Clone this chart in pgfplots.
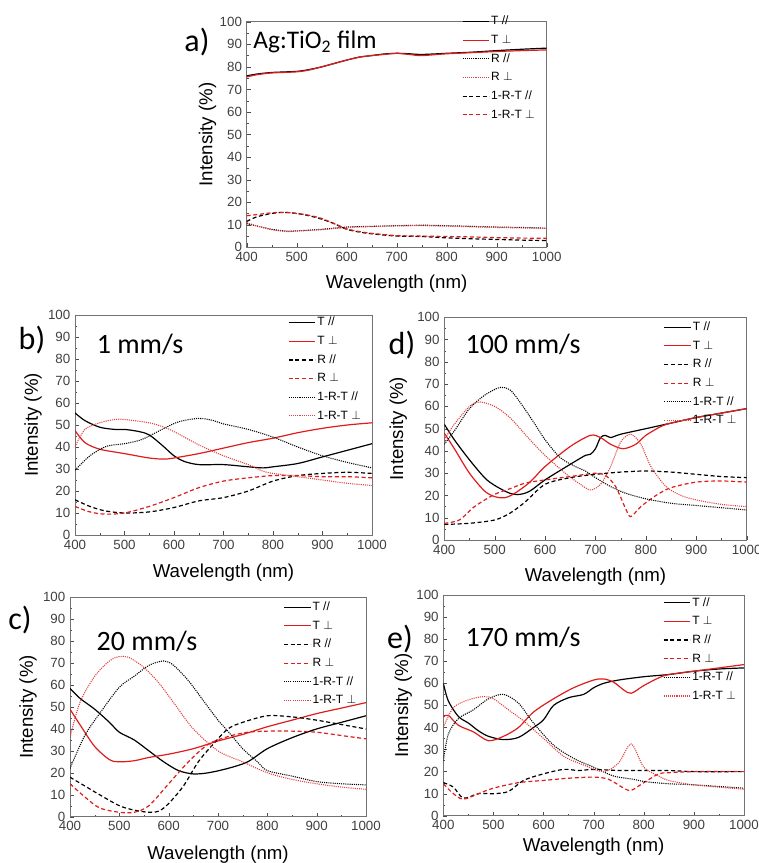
\documentclass[border=0pt]{standalone}
\usepackage{fontspec}
\setmainfont{Liberation Sans}
\newfontfamily\calib{Carlito}
\usepackage{pgfplots}
\pgfplotsset{compat=1.18}
\definecolor{myred}{RGB}{222,28,28}

\pgfplotsset{
  panel/.style={
    scale only axis,
    xmin=400, xmax=1000, ymin=0, ymax=100,
    xtick={400,500,...,1000}, ytick={0,10,...,100},
    minor x tick num=1, minor y tick num=1,
    tick align=inside, xtick pos=bottom, ytick pos=left,
    axis line style={black!55},
    major tick length=3pt, minor tick length=1.5pt,
    tick style={black!70},
    tick label style={font=\fontsize{10}{11}\selectfont, text=black!75},
    /pgf/number format/assume math mode=true,
    /pgf/number format/1000 sep={},
    label style={font=\fontsize{14}{16}\selectfont},
    xlabel={Wavelength (nm)}, ylabel={Intensity (\%)},
    legend cell align=left,
    legend image code/.code={\draw[##1] (0pt,0pt) -- (20pt,0pt);},
    legend style={draw=none, fill=none, anchor=north west, inner sep=0pt,
      font=\fontsize{9}{10}\selectfont, row sep=3pt,
      nodes={inner sep=1pt, text height=7pt, text depth=2pt}},
  },
  Tp/.style={black, solid, line width=0.9pt, smooth},
  Tr/.style={myred, solid, line width=0.9pt, smooth},
  Dp/.style={black, dash pattern=on 3pt off 2pt, line width=0.9pt, smooth},
  Dr/.style={myred, dash pattern=on 3pt off 2pt, line width=0.9pt, smooth},
  Op/.style={black, dash pattern=on 0.8pt off 0.8pt, line width=0.8pt, smooth},
  Or/.style={myred!85, dash pattern=on 0.8pt off 0.8pt, line width=0.8pt, smooth},
}

\begin{document}
\begin{tikzpicture}
\useasboundingbox (0,0) rectangle (569.25pt,-647.25pt);

% ---------- a) Ag:TiO2 film
\begin{axis}[panel, at={(185pt,-185.5pt)}, anchor=south west,
  width=225pt, height=169.2pt,
  xlabel style={at={(axis description cs:0.5,-0.16)}, anchor=center},
  ylabel style={at={(axis description cs:-0.13,0.5)}, anchor=center},
  legend style={at={(0.717,1.035)}}]
\addplot[Tp] coordinates {(400,76)(420,76.8)(450,77.5)(500,78)(525,78.8)(550,80)(575,81.5)(600,83)(625,84.3)(650,85)(675,85.7)(700,86)(725,85.8)(750,85.5)(800,86)(850,86.5)(900,87.2)(950,87.8)(1000,88.3)};
\addplot[Tr] coordinates {(400,75.5)(420,76.5)(450,77.3)(500,77.8)(525,78.6)(550,80)(575,81.5)(600,83)(625,84.3)(650,85)(675,85.5)(700,86)(725,85.5)(750,85)(800,85.8)(850,86.3)(900,86.8)(950,87.2)(1000,87.5)};
\addplot[Op] coordinates {(400,10.5)(420,9.5)(450,8)(480,7.2)(500,7.3)(550,8)(600,9)(650,9.3)(700,9.6)(750,9.8)(800,9.6)(850,9.3)(900,9)(950,8.8)(1000,8.5)};
\addplot[Or] coordinates {(400,11)(420,9.5)(450,7.8)(480,7)(500,7.2)(550,7.8)(600,8.8)(650,9.2)(700,9.5)(750,9.6)(800,9.4)(850,9.1)(900,8.8)(950,8.6)(1000,8.4)};
\addplot[Dp] coordinates {(400,11.5)(420,13.5)(450,15)(475,15.5)(500,15)(525,14)(550,12.5)(575,10.5)(600,8)(625,6.8)(650,6)(700,5)(750,4.8)(800,4.2)(850,3.8)(900,3.5)(950,3.2)(1000,3)};
\addplot[Dr] coordinates {(400,14)(420,14.5)(450,15.3)(475,15.5)(500,15)(525,14.2)(550,12.8)(575,10.5)(600,8.2)(625,7)(650,6.2)(700,5.2)(750,5)(800,4.8)(850,4.6)(900,4.3)(950,4.1)(1000,4)};
\legend{T //, T $\perp$, R //, R $\perp$, 1-R-T //, 1-R-T $\perp$}
\end{axis}

% ---------- b) 1 mm/s
\begin{axis}[panel, at={(56.25pt,-401.25pt)}, anchor=south west,
  width=222.75pt, height=165pt,
  xlabel style={at={(axis description cs:0.5,-0.17)}, anchor=center},
  ylabel style={at={(axis description cs:-0.141,0.5)}, anchor=center},
  legend style={at={(0.717,1.0)}}]
\addplot[Tp] coordinates {(400,55.5)(420,52)(450,49)(480,48)(500,48)(530,47)(550,45.5)(575,41)(600,36)(620,33.5)(650,32)(700,32)(750,31)(780,30.5)(800,31)(850,32.5)(900,35.5)(950,38.5)(1000,41.5)};
\addplot[Tr] coordinates {(400,47.5)(420,42)(450,39)(500,37)(550,35)(580,34.5)(600,35)(650,37)(700,39.5)(750,42)(800,44)(850,46.5)(900,48.5)(950,50)(1000,51)};
\addplot[Dp] coordinates {(400,16)(430,13)(460,11)(500,10)(550,10.5)(600,12.5)(650,15.5)(700,17)(750,20)(800,24.5)(850,27)(900,28)(950,28.5)(1000,28)};
\addplot[Dr] coordinates {(400,13)(430,10.5)(460,9.5)(500,10)(550,13)(600,17)(650,21.5)(700,24.5)(750,26)(800,27)(850,27)(900,26.5)(950,26.5)(1000,26)};
\addplot[Op] coordinates {(400,29.5)(430,36)(460,40)(480,41)(500,41.5)(530,43)(550,45)(580,48.5)(610,51.5)(650,53)(680,52)(700,50.5)(750,48)(800,44.5)(850,40)(900,36)(950,33)(1000,30.5)};
\addplot[Or] coordinates {(400,40)(420,48)(450,51)(480,52.5)(500,52.5)(550,51)(580,49)(600,47)(650,41)(700,36)(750,32)(780,29)(800,28)(850,26.5)(900,25)(950,23.5)(1000,22.5)};
\legend{T //, T $\perp$, R //, R $\perp$, 1-R-T //, 1-R-T $\perp$}
\end{axis}

% ---------- d) 100 mm/s
\begin{axis}[panel, at={(333.2pt,-405pt)}, anchor=south west,
  width=226.8pt, height=167pt,
  xlabel style={at={(axis description cs:0.5,-0.166)}, anchor=center},
  ylabel style={at={(axis description cs:-0.152,0.5)}, anchor=center},
  legend style={at={(0.725,0.99)}}]
\addplot[Tp] coordinates {(400,52)(420,45)(450,36)(480,28)(500,24.5)(530,21)(550,20.5)(570,22)(600,27)(650,34)(680,38)(690,38.5)(700,41)(710,46)(720,47)(730,46)(750,47.5)(800,50)(850,52.5)(900,55)(950,57)(1000,59)};
\addplot[Tr] coordinates {(400,48)(420,41)(450,30)(480,22)(500,19.5)(520,19)(540,21)(570,26)(600,33)(650,42)(690,47)(710,46)(730,43)(755,41)(780,43)(800,47)(830,51)(850,52.5)(900,55)(950,57)(1000,59)};
\addplot[Dp] coordinates {(400,7)(450,7.5)(500,9)(530,12)(560,17)(600,25)(650,28)(700,29.5)(750,30.5)(800,31)(850,30.5)(900,29.5)(950,28.5)(1000,28)};
\addplot[Dr] coordinates {(400,7.5)(430,9)(460,15)(500,20.5)(530,23)(560,25.5)(600,27)(650,28.5)(700,30)(720,29)(740,24)(760,14)(770,10.5)(790,15)(820,20)(850,23.5)(900,26)(950,26.5)(1000,26)};
\addplot[Op] coordinates {(400,43)(420,49)(450,59)(480,65)(510,68.5)(530,67.5)(550,62)(580,52)(600,45)(630,37)(660,33)(680,31)(700,28)(730,24)(760,21)(800,18.5)(850,16.5)(900,15.5)(950,14.5)(1000,13.5)};
\addplot[Or] coordinates {(400,45)(420,52)(450,60)(470,62)(500,60)(530,55)(570,45)(600,38)(640,30)(670,25)(690,22.5)(710,25)(730,33)(750,44)(770,47.5)(790,43)(810,33)(840,24)(870,20)(900,18)(950,16)(1000,15)};
\legend{T //, T $\perp$, R //, R $\perp$, 1-R-T //, 1-R-T $\perp$}
\end{axis}

% ---------- c) 20 mm/s
\begin{axis}[panel, at={(52.5pt,-612.5pt)}, anchor=south west,
  width=222pt, height=164.5pt,
  xlabel style={at={(axis description cs:0.5,-0.173)}, anchor=center},
  ylabel style={at={(axis description cs:-0.142,0.5)}, anchor=center},
  legend style={at={(0.72,0.99)}}]
\addplot[Tp] coordinates {(400,58.5)(420,54)(450,49)(480,43)(500,38.5)(530,35)(560,30)(590,25)(620,21)(650,19.5)(680,20)(720,22)(760,25)(800,31)(850,36)(900,40)(950,43)(1000,46)};
\addplot[Tr] coordinates {(400,49)(420,42)(450,32)(480,26)(500,25)(530,25.5)(560,27)(600,28.5)(650,31)(700,34.5)(750,37.5)(800,41)(850,44)(900,47)(950,49.5)(1000,52)};
\addplot[Dp] coordinates {(400,18)(430,14)(460,10)(500,5)(530,3)(560,2)(580,2.5)(600,6)(630,14)(660,25)(690,33)(720,40)(750,43)(800,46)(850,45.5)(900,44)(950,42)(1000,40)};
\addplot[Dr] coordinates {(400,15)(430,9)(460,4)(500,2)(530,2)(560,5)(600,15)(640,25)(680,33)(720,36.5)(760,38.5)(800,39)(850,39)(900,38.5)(950,37)(1000,35.5)};
\addplot[Op] coordinates {(400,22)(430,37)(460,47)(500,59)(530,64)(560,69)(590,71)(610,69)(640,62)(670,53)(700,44)(720,39)(750,31)(780,25)(800,21)(850,18.5)(900,16)(950,15)(1000,14.5)};
\addplot[Or] coordinates {(400,36)(420,52)(450,64)(480,71)(500,73)(520,72.5)(550,68)(580,61)(610,52)(650,40)(700,30)(750,25)(800,20)(850,17)(900,15)(950,13.5)(1000,12.5)};
\legend{T //, T $\perp$, R //, R $\perp$, 1-R-T //, 1-R-T $\perp$}
\end{axis}

% ---------- e) 170 mm/s
\begin{axis}[panel, at={(332.5pt,-611.8pt)}, anchor=south west,
  width=225.5pt, height=165.5pt,
  xlabel style={at={(axis description cs:0.5,-0.14)}, anchor=center},
  ylabel style={at={(axis description cs:-0.133,0.5)}, anchor=center},
  legend style={at={(0.73,1.0)}}]
\addplot[Tp] coordinates {(400,60)(410,52)(430,45)(450,42)(470,38.5)(490,36)(520,34.5)(550,35.5)(580,40)(600,43.5)(620,50)(650,53.5)(680,55)(700,58)(720,60)(750,61.5)(800,63)(850,64)(900,65.5)(950,66.5)(1000,67)};
\addplot[Tr] coordinates {(400,45)(410,45.5)(430,41)(460,38)(490,34)(520,36)(550,40)(580,47)(620,53)(660,58)(700,61.5)(720,62)(740,60.5)(760,57)(775,55.5)(800,59)(830,62.5)(850,64)(900,65.5)(950,67)(1000,68.5)};
\addplot[Dp] coordinates {(400,15)(420,13)(440,8)(470,10)(500,10)(530,11)(560,16)(600,19)(640,21)(670,20.5)(700,21)(750,20.5)(800,20.5)(850,20.5)(900,20)(1000,20)};
\addplot[Dr] coordinates {(400,14.5)(420,10)(440,7.5)(470,10)(500,12.5)(550,15)(600,16)(650,17)(700,17.5)(730,16.5)(760,12.5)(775,11.5)(800,15)(830,19)(850,19.5)(900,20)(1000,20)};
\addplot[Op] coordinates {(400,25)(410,37)(430,44)(460,48)(490,53)(520,55)(550,51)(580,42)(620,32)(660,26)(700,22)(740,18)(780,16.5)(800,15.5)(850,14.5)(900,14)(1000,12.5)};
\addplot[Or] coordinates {(400,40)(420,49)(450,52.5)(480,54)(500,53)(530,48)(560,43)(600,35)(640,27)(680,23)(720,20)(750,24)(775,32.5)(800,22)(830,18)(850,16)(900,14)(1000,12)};
\legend{T //, T $\perp$, R //, R $\perp$, 1-R-T //, 1-R-T $\perp$}
\end{axis}

% ---------- panel letters and captions
\node[font=\calib\fontsize{24}{26}\selectfont] at (147.75pt,-31.5pt) {a)};
\node[font=\calib\fontsize{19}{21}\selectfont] at (236.25pt,-31.5pt) {Ag:TiO\textsubscript{2} film};
\node[font=\calib\fontsize{24}{26}\selectfont] at (24pt,-255pt) {b)};
\node[font=\calib\fontsize{21}{23}\selectfont] at (105pt,-258pt) {1 mm/s};
\node[font=\calib\fontsize{24}{26}\selectfont] at (301.5pt,-258.75pt) {d)};
\node[font=\calib\fontsize{21}{23}\selectfont] at (392.25pt,-258pt) {100 mm/s};
\node[font=\calib\fontsize{24}{26}\selectfont] at (15pt,-465pt) {c)};
\node[font=\calib\fontsize{21}{23}\selectfont] at (110.25pt,-480.75pt) {20 mm/s};
\node[font=\calib\fontsize{24}{26}\selectfont] at (300pt,-479pt) {e)};
\node[font=\calib\fontsize{21}{23}\selectfont] at (392.25pt,-477.75pt) {170 mm/s};
\end{tikzpicture}
\end{document}
